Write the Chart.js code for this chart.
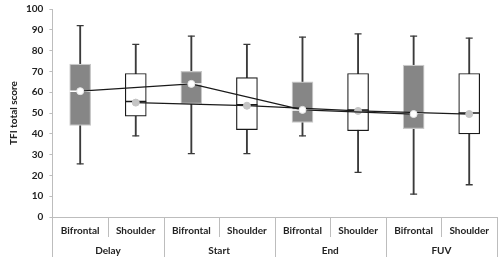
<!DOCTYPE html>
<html>
<head>
<meta charset="utf-8">
<script src="https://cdn.jsdelivr.net/npm/chart.js@4/dist/chart.umd.min.js"></script>
<style>
  html, body { margin: 0; padding: 0; background: #fff; }
  canvas { display: block; }
</style>
</head>
<body>
<canvas id="grafico" width="500" height="261"></canvas>
<script>
// ========== DADOS ==========
const categorias = ['Bifrontal', 'Shoulder', 'Bifrontal', 'Shoulder', 'Bifrontal', 'Shoulder', 'Bifrontal', 'Shoulder'];
const grupos = ['Delay', 'Start', 'End', 'FUV'];

const minimo  = [25.5, 39, 30.5, 30.5, 39, 21.5, 11, 15.5];
const q1      = [44, 48.5, 54.5, 42, 45.5, 41.5, 42.5, 40];
const mediana = [60.5, 55.5, 64, 54, 51.5, 51.5, 50, 50];
const q3      = [73.5, 69, 70, 67, 65, 69, 73, 69];
const maximo  = [92, 83, 87, 83, 86.5, 88, 87, 86];

const mediaBifrontal = [60.5, null, 64, null, 51.5, null, 49.5, null];
const mediaShoulder  = [null, 55, null, 53.5, null, 51, null, 49.5];

// ========== GRÁFICO ==========
const fonte = { family: 'Lato', size: 10, weight: 'bold' };
const cinza = '#bdbdbd';
const ehBif = categorias.map(c => c === 'Bifrontal');

// linhas verticais que separam as categorias e os grupos abaixo do eixo x
const separadores = {
  id: 'separadores',
  afterDraw(chart) {
    const x = chart.scales.x;
    const x2 = chart.scales.x2;
    const ctx = chart.ctx;
    const meio = (x.getPixelForValue(1) - x.getPixelForValue(0)) / 2;
    ctx.save();
    ctx.strokeStyle = cinza;
    ctx.lineWidth = 1;
    for (let i = 0; i <= categorias.length; i++) {
      const px = Math.round(x.getPixelForValue(i) - meio) + 0.5;
      const fim = i % 2 === 0 ? x2.bottom : x.bottom - 8;
      ctx.beginPath();
      ctx.moveTo(px, x.top);
      ctx.lineTo(px, fim);
      ctx.stroke();
    }
    ctx.restore();
  }
};

new Chart(document.getElementById('grafico').getContext('2d'), {
  data: {
    labels: categorias,
    datasets: [
      {
        type: 'line', order: 0,
        data: mediaBifrontal, spanGaps: true,
        borderColor: '#1a1a1a', borderWidth: 1.2,
        pointRadius: 3.5, pointBackgroundColor: '#fff', pointBorderColor: '#e6e6e6', pointBorderWidth: 1
      },
      {
        type: 'line', order: 0,
        data: mediaShoulder, spanGaps: true,
        borderColor: '#1a1a1a', borderWidth: 1.2,
        pointRadius: 3.5, pointBackgroundColor: '#c4c4c4', pointBorderColor: '#c4c4c4', pointBorderWidth: 1
      },
      {
        type: 'line', order: 1, showLine: false,
        data: mediana,
        pointStyle: 'line', pointRadius: 10.5, pointBorderWidth: 1.5,
        pointBorderColor: ehBif.map(b => b ? '#ffffff' : '#1a1a1a')
      },
      {
        type: 'bar', order: 2, grouped: false,
        data: q1.map((v, i) => [v, q3[i]]),
        barThickness: 21,
        backgroundColor: ehBif.map(b => b ? '#868686' : '#ffffff'),
        borderColor: ehBif.map(b => b ? '#c8c8c8' : '#1a1a1a'),
        borderWidth: 1.2, borderSkipped: false
      },
      {
        type: 'bar', order: 3, grouped: false,
        data: minimo.map((v, i) => [v, maximo[i]]),
        barThickness: 1.2,
        backgroundColor: '#3a3a3a', borderWidth: 0
      },
      {
        type: 'line', order: 3, showLine: false,
        data: maximo,
        pointStyle: 'line', pointRadius: 3.5, pointBorderWidth: 1.3, pointBorderColor: '#3a3a3a'
      },
      {
        type: 'line', order: 3, showLine: false,
        data: minimo,
        pointStyle: 'line', pointRadius: 3.5, pointBorderWidth: 1.3, pointBorderColor: '#3a3a3a'
      }
    ]
  },
  options: {
    responsive: false,
    animation: false,
    layout: { autoPadding: false, padding: { top: 0, right: 3, left: 4, bottom: 4 } },
    plugins: { legend: { display: false }, tooltip: { enabled: false } },
    scales: {
      y: {
        min: 0, max: 100,
        ticks: { stepSize: 10, font: { ...fonte, lineHeight: 0.6 }, color: '#222', padding: 6 },
        grid: { drawOnChartArea: false, tickLength: 3, color: cinza },
        border: { color: cinza },
        title: { display: true, text: 'TFI total score', font: fonte, color: '#222', padding: { top: 4, bottom: 0 } }
      },
      x: {
        position: 'bottom',
        ticks: { font: fonte, color: '#222', padding: 8, maxRotation: 0, autoSkip: false },
        grid: { display: false, drawTicks: false, tickLength: 0 },
        border: { color: cinza }
      },
      x2: {
        type: 'category', position: 'bottom', offset: true,
        labels: grupos,
        ticks: { font: fonte, color: '#222', padding: 0, maxRotation: 0, autoSkip: false },
        grid: { display: false, drawTicks: false, tickLength: 0 },
        border: { display: false }
      }
    }
  },
  plugins: [separadores]
});
</script>
</body>
</html>
